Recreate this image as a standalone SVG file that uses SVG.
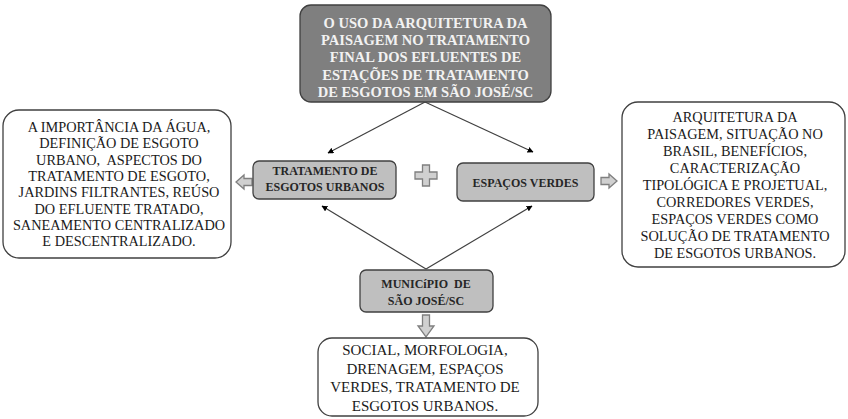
<svg xmlns="http://www.w3.org/2000/svg" width="848" height="419" viewBox="0 0 848 419">
<defs>
<style>
.t{text-anchor:middle}
.tb{text-anchor:middle;font-weight:bold}
.box{fill:#ffffff;stroke:#404040;stroke-width:1.3}
.mid{fill:#bfbfbf;stroke:#404040;stroke-width:1.3}
.blk{fill:#d0d0d0;stroke:#7f7f7f;stroke-width:1.3}
.con{stroke:#404040;stroke-width:1.2;fill:none;marker-end:url(#ah)}
</style>
<marker id="ah" viewBox="0 0 10 10" refX="9" refY="5" markerWidth="6" markerHeight="6" orient="auto" markerUnits="userSpaceOnUse">
<path d="M0,0 L10,5 L0,10 z" fill="#000"/>
</marker>
</defs>
<rect width="848" height="419" fill="#ffffff"/>

<g id="connectors">
<line class="con" x1="425" y1="102" x2="328" y2="153"/>
<line class="con" x1="425" y1="102" x2="533" y2="152"/>
<line class="con" x1="426" y1="269" x2="322" y2="206"/>
<line class="con" x1="426" y1="269" x2="532" y2="206"/>
</g>

<g id="top">
<rect x="300" y="5" width="251" height="97" rx="11" fill="#7f7f7f" stroke="#404040" stroke-width="1.3"/>
<text class="tb" font-family="Liberation Serif" font-size="14.5" fill="#f2f2f2" x="425.5" y="28">O USO DA ARQUITETURA DA</text>
<text class="tb" font-family="Liberation Serif" font-size="14.5" fill="#f2f2f2" x="425.5" y="45.2">PAISAGEM NO TRATAMENTO</text>
<text class="tb" font-family="Liberation Serif" font-size="14.5" fill="#f2f2f2" x="425.5" y="62.4">FINAL DOS EFLUENTES DE</text>
<text class="tb" font-family="Liberation Serif" font-size="14.5" fill="#f2f2f2" x="425.5" y="79.6">ESTAÇÕES DE TRATAMENTO</text>
<text class="tb" font-family="Liberation Serif" font-size="14.5" fill="#f2f2f2" x="425.5" y="96.8">DE ESGOTOS EM SÃO JOSÉ/SC</text>
</g>

<g id="left">
<rect class="box" x="3" y="110" width="228" height="148" rx="16"/>
<text class="t" font-family="Liberation Serif" font-size="14.3" fill="#1a1a1a" x="119" y="132">A IMPORTÂNCIA DA ÁGUA,</text>
<text class="t" font-family="Liberation Serif" font-size="14.3" fill="#1a1a1a" x="119" y="148.3">DEFINIÇÃO DE ESGOTO</text>
<text class="t" font-family="Liberation Serif" font-size="14.3" fill="#1a1a1a" x="119" y="164.6" xml:space="preserve">URBANO,  ASPECTOS DO</text>
<text class="t" font-family="Liberation Serif" font-size="14.3" fill="#1a1a1a" x="119" y="180.9">TRATAMENTO DE ESGOTO,</text>
<text class="t" font-family="Liberation Serif" font-size="14.3" fill="#1a1a1a" x="119" y="197.2">JARDINS FILTRANTES, REÚSO</text>
<text class="t" font-family="Liberation Serif" font-size="14.3" fill="#1a1a1a" x="119" y="213.5">DO EFLUENTE TRATADO,</text>
<text class="t" font-family="Liberation Serif" font-size="14.3" fill="#1a1a1a" x="119" y="229.8">SANEAMENTO CENTRALIZADO</text>
<text class="t" font-family="Liberation Serif" font-size="14.3" fill="#1a1a1a" x="119" y="246.1">E DESCENTRALIZADO.</text>
</g>

<g id="arrow-left">
<path class="blk" d="M252,178.5 L244,178.5 L244,175 L236,182 L244,189 L244,185.5 L252,185.5 z"/>
</g>

<g id="tratamento">
<rect class="mid" x="253" y="161" width="143" height="38" rx="6"/>
<text class="tb" font-family="Liberation Serif" font-size="12" fill="#262626" x="325" y="174.5">TRATAMENTO DE</text>
<text class="tb" font-family="Liberation Serif" font-size="12" fill="#262626" x="325" y="190.8">ESGOTOS URBANOS</text>
</g>

<g id="plus">
<path class="blk" d="M422.5,165 L429.5,165 L429.5,172 L437,172 L437,179 L429.5,179 L429.5,186 L422.5,186 L422.5,179 L415,179 L415,172 L422.5,172 z"/>
</g>

<g id="espacos">
<rect class="mid" x="457" y="163" width="137" height="38" rx="6"/>
<text class="tb" font-family="Liberation Serif" font-size="12" fill="#262626" x="525.5" y="187">ESPAÇOS VERDES</text>
</g>

<g id="arrow-right">
<path class="blk" d="M601,177.5 L609,177.5 L609,174 L617,181 L609,188 L609,184.5 L601,184.5 z"/>
</g>

<g id="right">
<rect class="box" x="622" y="102" width="223" height="165" rx="16"/>
<text class="t" font-family="Liberation Serif" font-size="14.3" fill="#1a1a1a" x="735" y="121.5">ARQUITETURA DA</text>
<text class="t" font-family="Liberation Serif" font-size="14.3" fill="#1a1a1a" x="735" y="138.6">PAISAGEM, SITUAÇÃO NO</text>
<text class="t" font-family="Liberation Serif" font-size="14.3" fill="#1a1a1a" x="735" y="155.7">BRASIL, BENEFÍCIOS,</text>
<text class="t" font-family="Liberation Serif" font-size="14.3" fill="#1a1a1a" x="735" y="172.8">CARACTERIZAÇÃO</text>
<text class="t" font-family="Liberation Serif" font-size="14.3" fill="#1a1a1a" x="735" y="189.9">TIPOLÓGICA E PROJETUAL,</text>
<text class="t" font-family="Liberation Serif" font-size="14.3" fill="#1a1a1a" x="735" y="207">CORREDORES VERDES,</text>
<text class="t" font-family="Liberation Serif" font-size="14.3" fill="#1a1a1a" x="735" y="224.1">ESPAÇOS VERDES COMO</text>
<text class="t" font-family="Liberation Serif" font-size="14.3" fill="#1a1a1a" x="735" y="241.2">SOLUÇÃO DE TRATAMENTO</text>
<text class="t" font-family="Liberation Serif" font-size="14.3" fill="#1a1a1a" x="735" y="258.3">DE ESGOTOS URBANOS.</text>
</g>

<g id="municipio">
<rect class="mid" x="360" y="270" width="133" height="42" rx="6"/>
<text class="tb" font-family="Liberation Serif" font-size="12" fill="#262626" x="426" y="288" xml:space="preserve">MUNICíPIO  DE</text>
<text class="tb" font-family="Liberation Serif" font-size="12" fill="#262626" x="426" y="305">SÃO JOSÉ/SC</text>
</g>

<g id="arrow-down">
<path class="blk" d="M422.5,315 L429.5,315 L429.5,326 L434,326 L426,337 L418,326 L422.5,326 z"/>
</g>

<g id="bottom">
<rect class="box" x="318" y="338" width="220" height="78" rx="14"/>
<text class="t" font-family="Liberation Serif" font-size="15" fill="#1a1a1a" x="425" y="355">SOCIAL, MORFOLOGIA,</text>
<text class="t" font-family="Liberation Serif" font-size="15" fill="#1a1a1a" x="425" y="373.7">DRENAGEM, ESPAÇOS</text>
<text class="t" font-family="Liberation Serif" font-size="15" fill="#1a1a1a" x="425" y="392.4">VERDES, TRATAMENTO DE</text>
<text class="t" font-family="Liberation Serif" font-size="15" fill="#1a1a1a" x="425" y="411">ESGOTOS URBANOS.</text>
</g>
</svg>
